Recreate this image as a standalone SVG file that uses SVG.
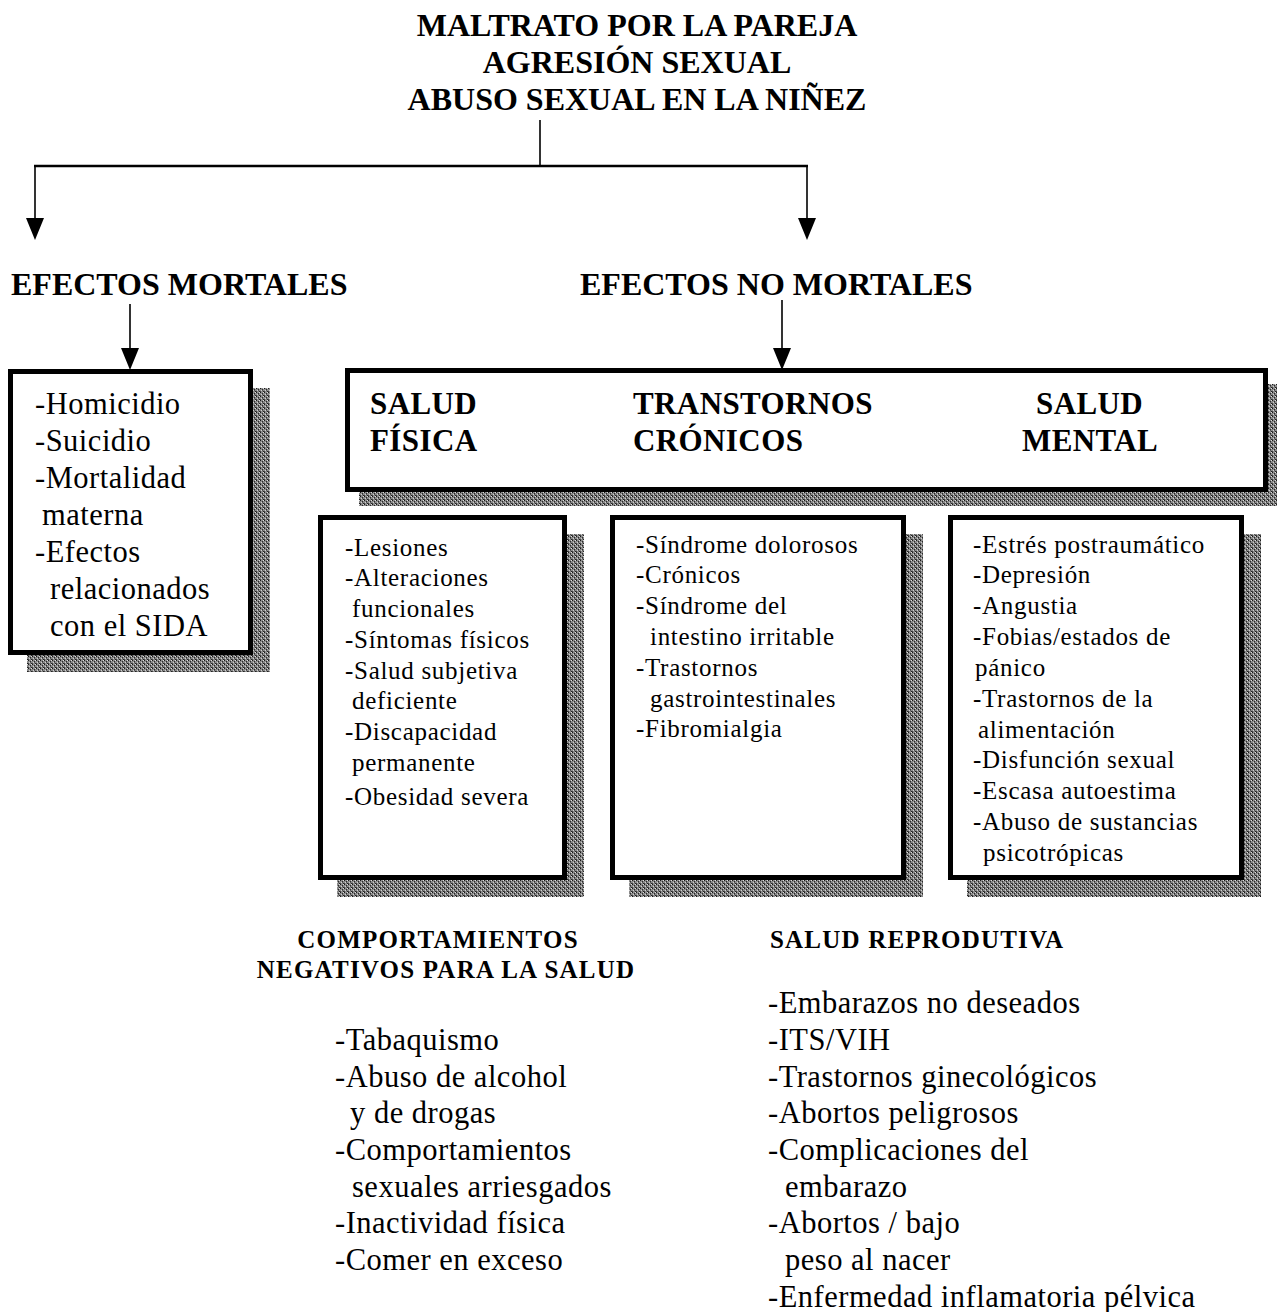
<svg xmlns="http://www.w3.org/2000/svg" width="1277" height="1312" viewBox="0 0 1277 1312">
<style>
.t{font-family:"Liberation Serif","Times New Roman",serif;fill:#000}
.title{font-size:32px;font-weight:bold;text-anchor:middle}
.hd{font-size:32px;font-weight:bold}
.bh{font-size:31px;font-weight:bold;letter-spacing:0.4px}
.lb{font-size:30.5px;letter-spacing:0.5px}
.sb{font-size:25px;letter-spacing:0.7px}
.h2{font-size:25px;font-weight:bold;letter-spacing:1.2px}
.box{fill:#fff;stroke:#000;stroke-width:5}
.shadow{fill:url(#dots)}
.ln{stroke:#000;stroke-width:1.6;fill:none}
</style>
<defs>
<pattern id="dots" width="4" height="4" patternUnits="userSpaceOnUse">
<rect width="4" height="4" fill="#8a8a8a"/>
<rect x="0" y="0" width="1" height="1" fill="#1a1a1a"/>
<rect x="2" y="1" width="1" height="1" fill="#2a2a2a"/>
<rect x="1" y="2" width="1" height="1" fill="#d0d0d0"/>
<rect x="3" y="3" width="1" height="1" fill="#222"/>
<rect x="3" y="0" width="1" height="1" fill="#dcdcdc"/>
<rect x="0" y="3" width="1" height="1" fill="#444"/>
<rect x="2" y="2" width="1" height="1" fill="#555"/>
</pattern>
</defs>

<g id="title">
<text class="t title" x="637" y="36">MALTRATO POR LA PAREJA</text>
<text class="t title" x="637" y="73">AGRESIÓN SEXUAL</text>
<text class="t title" x="637" y="110">ABUSO SEXUAL EN LA NIÑEZ</text>
</g>

<g id="connectors">
<line class="ln" x1="540" y1="120" x2="540" y2="166"/>
<line x1="34" y1="166" x2="808" y2="166" stroke="#000" stroke-width="2.5"/>
<path d="M35,166 V218" class="ln"/>
<path d="M26,218 L44,218 L35,240 Z" fill="#000"/>
<path d="M807,166 V218" class="ln"/>
<path d="M798,218 L816,218 L807,240 Z" fill="#000"/>
<path d="M130,304 V348" class="ln"/>
<path d="M121,348 L139,348 L130,370 Z" fill="#000"/>
<path d="M782,300 V348" class="ln"/>
<path d="M773,348 L791,348 L782,370 Z" fill="#000"/>
</g>

<g id="efectos-mortales">
<text class="t hd" x="11" y="295">EFECTOS MORTALES</text>
</g>
<g id="efectos-no-mortales">
<text class="t hd" x="580" y="295">EFECTOS NO MORTALES</text>
</g>

<g id="box-mortales">
<rect class="shadow" x="27" y="388" width="243" height="284"/>
<rect class="box" x="10.5" y="371.5" width="240" height="281"/>
<g class="t lb">
<text x="35" y="414">-Homicidio</text>
<text x="35" y="451">-Suicidio</text>
<text x="35" y="488">-Mortalidad</text>
<text x="42" y="525">materna</text>
<text x="35" y="562">-Efectos</text>
<text x="50" y="599">relacionados</text>
<text x="50" y="636">con el SIDA</text>
</g>
</g>

<g id="box-no-mortales">
<rect class="shadow" x="359" y="384" width="923" height="122"/>
<rect class="box" x="347.5" y="370.5" width="918" height="119"/>
<g class="t bh">
<text x="370" y="414">SALUD</text>
<text x="370" y="451">FÍSICA</text>
<text x="633" y="414">TRANSTORNOS</text>
<text x="633" y="451">CRÓNICOS</text>
<text x="1036" y="414">SALUD</text>
<text x="1022" y="451">MENTAL</text>
</g>
</g>

<g id="box-salud-fisica">
<rect class="shadow" x="337" y="534" width="247" height="363"/>
<rect class="box" x="320.5" y="517.5" width="244" height="360"/>
<g class="t sb">
<text x="345" y="556">-Lesiones</text>
<text x="345" y="586">-Alteraciones</text>
<text x="352" y="617">funcionales</text>
<text x="345" y="648">-Síntomas físicos</text>
<text x="345" y="679">-Salud subjetiva</text>
<text x="352" y="709">deficiente</text>
<text x="345" y="740">-Discapacidad</text>
<text x="352" y="771">permanente</text>
<text x="345" y="805">-Obesidad severa</text>
</g>
</g>

<g id="box-cronicos">
<rect class="shadow" x="629" y="534" width="294" height="363"/>
<rect class="box" x="612.5" y="517.5" width="291" height="360"/>
<g class="t sb">
<text x="636" y="553">-Síndrome dolorosos</text>
<text x="636" y="583">-Crónicos</text>
<text x="636" y="614">-Síndrome del</text>
<text x="650" y="645">intestino irritable</text>
<text x="636" y="676">-Trastornos</text>
<text x="650" y="707">gastrointestinales</text>
<text x="636" y="737">-Fibromialgia</text>
</g>
</g>

<g id="box-salud-mental">
<rect class="shadow" x="967" y="534" width="294" height="363"/>
<rect class="box" x="950.5" y="517.5" width="291" height="360"/>
<g class="t sb">
<text x="973" y="553">-Estrés postraumático</text>
<text x="973" y="583">-Depresión</text>
<text x="973" y="614">-Angustia</text>
<text x="973" y="645">-Fobias/estados de</text>
<text x="975" y="676">pánico</text>
<text x="973" y="707">-Trastornos de la</text>
<text x="978" y="738">alimentación</text>
<text x="973" y="768">-Disfunción sexual</text>
<text x="973" y="799">-Escasa autoestima</text>
<text x="973" y="830">-Abuso de sustancias</text>
<text x="983" y="861">psicotrópicas</text>
</g>
</g>

<g id="comportamientos">
<text class="t h2" x="438" y="948" text-anchor="middle">COMPORTAMIENTOS</text>
<text class="t h2" x="446" y="978" text-anchor="middle">NEGATIVOS PARA LA SALUD</text>
<g class="t lb">
<text x="335" y="1050">-Tabaquismo</text>
<text x="335" y="1087">-Abuso de alcohol</text>
<text x="350" y="1123">y de drogas</text>
<text x="335" y="1160">-Comportamientos</text>
<text x="352" y="1197">sexuales arriesgados</text>
<text x="335" y="1233">-Inactividad física</text>
<text x="335" y="1270">-Comer en exceso</text>
</g>
</g>

<g id="salud-reproductiva">
<text class="t h2" x="770" y="948">SALUD REPRODUTIVA</text>
<g class="t lb">
<text x="768" y="1013">-Embarazos no deseados</text>
<text x="768" y="1050">-ITS/VIH</text>
<text x="768" y="1087">-Trastornos ginecológicos</text>
<text x="768" y="1123">-Abortos peligrosos</text>
<text x="768" y="1160">-Complicaciones del</text>
<text x="785" y="1197">embarazo</text>
<text x="768" y="1233">-Abortos / bajo</text>
<text x="785" y="1270">peso al nacer</text>
<text x="768" y="1307">-Enfermedad inflamatoria pélvica</text>
</g>
</g>
</svg>
